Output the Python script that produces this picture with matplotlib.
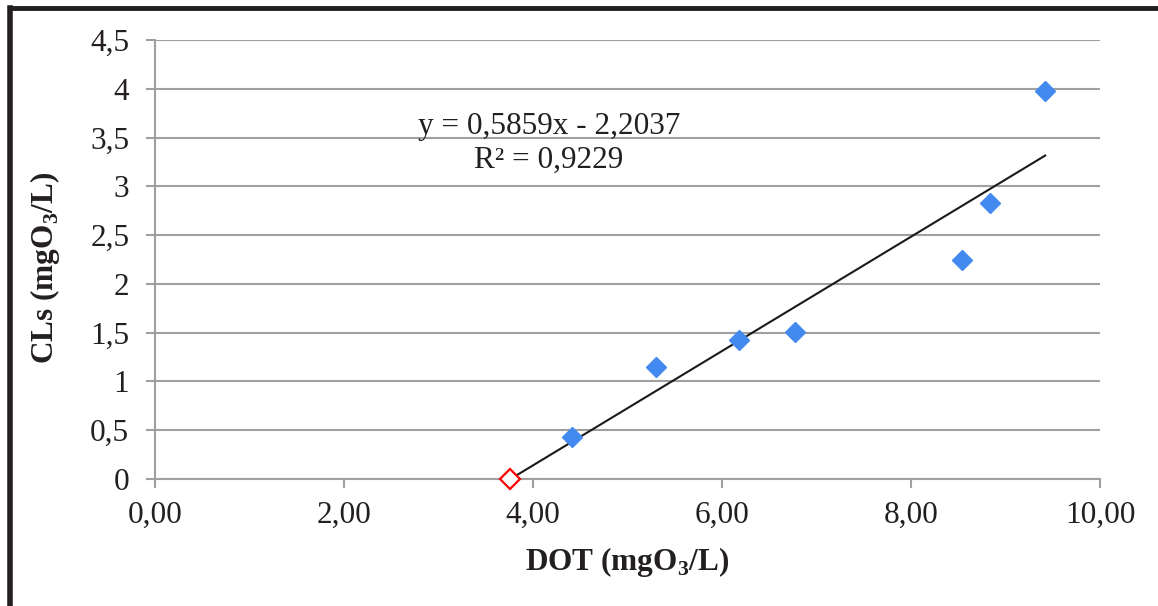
import matplotlib
matplotlib.use("Agg")
import matplotlib.pyplot as plt
from matplotlib.ticker import FixedLocator, FuncFormatter
from matplotlib.lines import Line2D

# ---- data ----
dot_blue = [4.41, 5.30, 6.18, 6.77, 8.54, 8.84, 9.42]
cls_blue = [0.43, 1.15, 1.42, 1.51, 2.24, 2.83, 3.98]
dot_red = [3.76]
cls_red = [0.0]
slope = 0.5859
intercept = -2.2037
trend_x = [3.761, 9.42]
eq_text = "y = 0,5859x - 2,2037\nR² = 0,9229"
x_ticks = [0, 2, 4, 6, 8, 10]
y_ticks = [0, 0.5, 1, 1.5, 2, 2.5, 3, 3.5, 4, 4.5]

plt.rcParams['font.family'] = ['Liberation Serif', 'DejaVu Serif']
plt.rcParams['mathtext.fontset'] = 'custom'
plt.rcParams['mathtext.rm'] = 'Liberation Serif'
plt.rcParams['mathtext.bf'] = 'Liberation Serif:bold'

fig = plt.figure(figsize=(11.58, 6.06), dpi=100)
ax = fig.add_axes([155/1158, 1-479/606, 945/1158, 439/606])

grid_c = '#A0A0A0'
ax.set_xlim(0, 10)
ax.set_ylim(0, 4.5)
ax.yaxis.set_major_locator(FixedLocator(y_ticks))
ax.xaxis.set_major_locator(FixedLocator(x_ticks))
ax.xaxis.set_major_formatter(FuncFormatter(lambda v, p: f"{v:.2f}".replace('.', ',')))
ax.yaxis.set_major_formatter(FuncFormatter(lambda v, p: (f"{v:g}").replace('.', ',')))
ax.grid(axis='y', color=grid_c, linewidth=1.5)
ax.set_axisbelow(True)
for s in ['top', 'right']:
    ax.spines[s].set_visible(False)
for s in ['left', 'bottom']:
    ax.spines[s].set_color(grid_c)
    ax.spines[s].set_linewidth(1.5)
ax.tick_params(axis='both', direction='out', length=6.5, width=1.5, color=grid_c,
               labelsize=22.5, labelcolor='#231F20')
ax.tick_params(axis='x', pad=9)
ax.tick_params(axis='y', pad=12)

ty = [slope * x + intercept for x in trend_x]
ax.plot(trend_x, ty, color='#1A1A1A', linewidth=1.5, zorder=3, clip_on=False)
ax.plot(dot_blue, cls_blue, linestyle='none', marker='D', markersize=10.5,
        markerfacecolor='#4489F0', markeredgecolor='#4489F0', zorder=4, clip_on=False)
ax.plot(dot_red, cls_red, linestyle='none', marker='D', markersize=10,
        markerfacecolor='white', markeredgecolor='#FF0000', markeredgewidth=1.6,
        zorder=5, clip_on=False)

ax.text(4.17, 3.44, eq_text, ha='center', va='center', multialignment='center',
        fontsize=22.5, color='#231F20', linespacing=1.22)

ax.set_xlabel(r'DOT (mgO$_\mathbf{3}$/L)', fontsize=22.5, fontweight='bold', color='#231F20')
ax.set_ylabel(r'CLs (mgO$_\mathbf{3}$/L)', fontsize=22.5, fontweight='bold', color='#231F20')
ax.xaxis.label.set_va('center')
ax.yaxis.label.set_va('center')
ax.xaxis.set_label_coords((627-155)/945, (479-562)/439)
ax.yaxis.set_label_coords((45-155)/945, (479-268)/439)

# figure border (top and left visible)
bx = 10/1158
by = 1 - 8/606
fig.add_artist(Line2D([bx, 1.05], [by, by], transform=fig.transFigure, color='#231F20', linewidth=3.5))
fig.add_artist(Line2D([bx, bx], [by, -0.05], transform=fig.transFigure, color='#231F20', linewidth=4.0))

fig.savefig('out.png', dpi=100)
